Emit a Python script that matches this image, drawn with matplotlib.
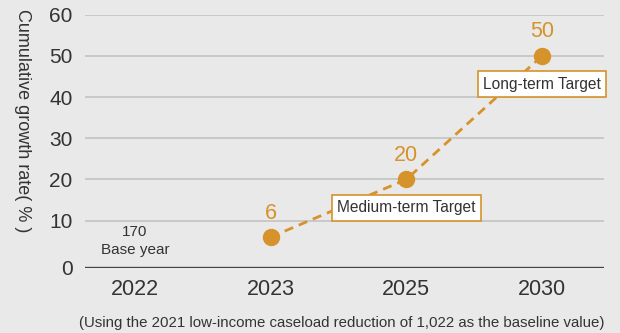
import matplotlib
matplotlib.use('Agg')
import matplotlib.pyplot as plt

years = ['2022', '2023', '2025', '2030']
target_years = ['2023', '2025', '2030']
growth = [6, 20, 50]
y_ticks = [10, 20, 30, 40, 50, 60]
base_value = '170'
base_label = 'Base year'
box_labels = {'2025': 'Medium-term Target', '2030': 'Long-term Target'}
footnote = '(Using the 2021 low-income caseload reduction of 1,022 as the baseline value)'

BG = '#e9e9e9'
ORANGE = '#d6922b'
DARK = '#333333'

plt.rcParams['font.family'] = ['Liberation Sans', 'DejaVu Sans']

fig = plt.figure(figsize=(6.2, 3.33), dpi=100, facecolor=BG)
ax = fig.add_axes([85 / 620, 65.3 / 333, 519 / 620, 253 / 333])
ax.set_facecolor(BG)

xs = [years.index(y) for y in target_years]
base = -1.43

for t in y_ticks:
    ax.axhline(t, color='#c6c6c6', lw=1.3, zorder=1)
ax.axhline(base, color='#444444', lw=2.4, zorder=2)

ax.plot(xs, growth, color=ORANGE, lw=2.0, ls=(0, (3.3, 2.2)), zorder=3)
ax.plot(xs, growth, 'o', color=ORANGE, ms=11.5, zorder=4)

for x, v in zip(xs, growth):
    ax.annotate(str(v), (x, v), xytext=(0, 17.3), textcoords='offset points',
                ha='center', va='center', color=ORANGE, fontsize=15.5)

ax.text(0, 7.3, base_value, ha='center', va='center', color=DARK, fontsize=11)
ax.text(0, 2.9, base_label, ha='center', va='center', color=DARK, fontsize=11)

for yr, txt in box_labels.items():
    i = years.index(yr)
    v = growth[target_years.index(yr)]
    ax.annotate(txt, (i, v), xytext=(0, -20.3), textcoords='offset points',
                ha='center', va='center', color=DARK, fontsize=11.2, zorder=5,
                bbox=dict(boxstyle='square,pad=0.35', fc='white', ec=ORANGE, lw=1.2))

ax.set_xlim(-0.368, 3.457)
ax.set_ylim(base, 60)
ax.set_xticks(range(len(years)))
ax.set_xticklabels(years, fontsize=15.5, color=DARK)
ax.set_yticks([base] + y_ticks)
ax.set_yticklabels(['0'] + [str(t) for t in y_ticks], fontsize=15, color=DARK)
ax.tick_params(axis='both', length=0)
ax.tick_params(axis='x', pad=8)
ax.tick_params(axis='y', pad=9)
for s in ax.spines.values():
    s.set_visible(False)

fig.text(22 / 620, 1 - 121 / 333, 'Cumulative growth rate( % )', rotation=270,
         ha='center', va='center', color=DARK, fontsize=13)
fig.text(342 / 620, 1 - 323 / 333, footnote, ha='center', va='center',
         color=DARK, fontsize=10.8)

fig.savefig('out.png', dpi=100, facecolor=BG)
